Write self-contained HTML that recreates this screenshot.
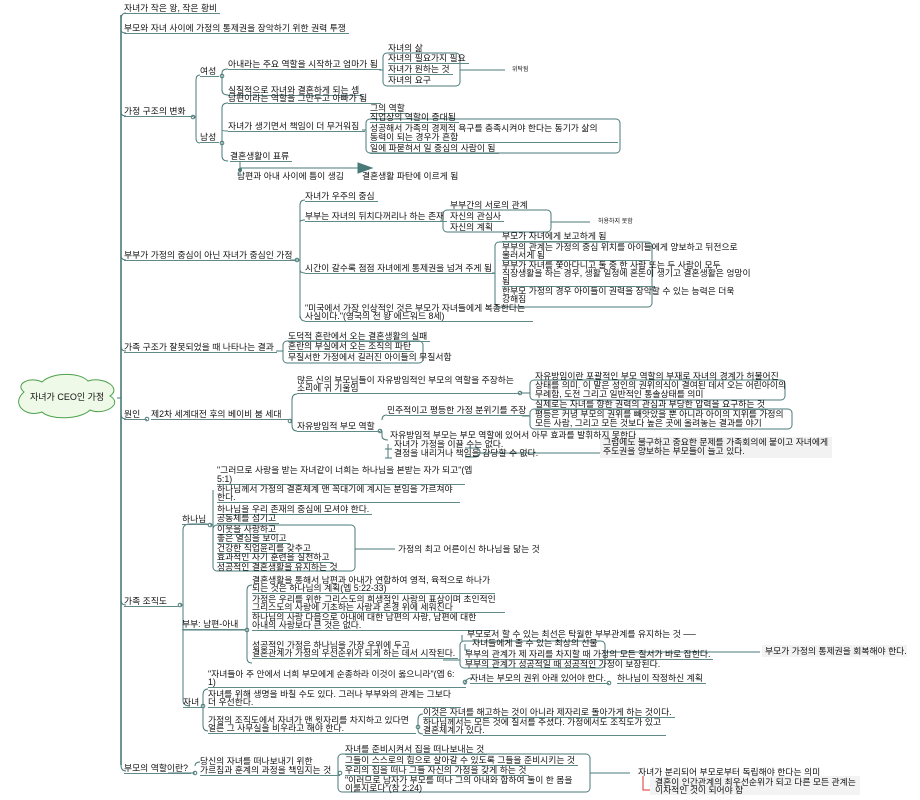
<!DOCTYPE html>
<html><head><meta charset="utf-8"><style>
body{margin:0;width:920px;height:800px;background:#fff;position:relative;overflow:hidden}
.t{position:absolute;font-family:"Liberation Sans","Noto Sans CJK KR",sans-serif;font-size:8.8px;line-height:9px;color:#111;white-space:nowrap;border-bottom:1px solid #5f8a87;padding-right:3px}
.n{border-bottom:none}
.s{font-size:6px}
svg{position:absolute;left:0;top:0}
</style></head><body>
<svg width="920" height="800" fill="none" stroke="#4a7a77" stroke-width="1">
<path d="M24,392 C14,384 30,376 42,382 C52,372 80,372 88,381 C104,376 122,388 110,396 C124,404 104,416 90,410 C80,420 50,420 42,412 C26,418 10,404 24,392Z" fill="#eef9e8" stroke="#4da14a"/>
<path d="M121,15 V765" stroke-width="1.6"/>
<path d="M117,398 H121"/>
<path d="M121,20 Q121,13 126,13 M121,30 Q121,33 126,33 M121,112 Q121,116 126,116 M121,255 Q121,260 126,260 M121,346 Q121,351 126,351 M121,414 Q121,419 126,419 M121,600 Q121,605 126,605 M121,765 Q121,771 126,771"/>
<circle cx="193" cy="117" r="1.8" fill="#fff"/>
<path d="M193,117 H196 M196,80 V138 Q196,143 200,143 M196,80 Q196,75 200,75"/>
<circle cx="222" cy="76" r="1.8" fill="#fff"/><circle cx="222" cy="143" r="1.8" fill="#fff"/>
<path d="M222,76 V90 Q222,95 228,95 M222,76 V73 Q222,69 228,69"/>
<path d="M222,143 V108 Q222,103 228,103 M222,143 V130 Q222,131 228,131 M222,143 V156 Q222,161 228,161"/>
<path d="M379,70 H383"/><rect x="383" y="53" width="77" height="33" rx="4"/>
<path d="M460,70 H505"/>
<path d="M362,130 H366"/><rect x="366" y="119" width="254" height="34" rx="4"/>
<path d="M240,162 V168 H358 M240,168 V175"/><polygon points="358,163 372,168 358,173" fill="#4a7a77"/>
<circle cx="240" cy="170" r="1.5" fill="#4a7a77"/>
<circle cx="297" cy="260" r="1.8" fill="#fff"/>
<path d="M290,260 H300 M300,205 V318 M300,205 Q300,200 305,200 M300,222 Q300,220 305,220 M300,270 Q300,273 305,273 M300,314 Q300,321 305,321"/>
<path d="M440,221 H443"/><rect x="443" y="210" width="108" height="22" rx="4"/><path d="M551,222 H590"/>
<path d="M492,273 H495"/><rect x="495" y="242" width="157" height="65" rx="4"/>
<rect x="283" y="341" width="140" height="22" rx="4"/><path d="M276,351 H283"/>
<circle cx="147" cy="419" r="1.8" fill="#fff"/><circle cx="290" cy="421" r="1.8" fill="#fff"/>
<path d="M290,421 H292 M292,400 Q292,394 297,394 M292,400 V425 Q292,431 297,431"/>
<circle cx="520" cy="393" r="1.8" fill="#fff"/><rect x="530" y="380" width="255" height="20" rx="4"/><path d="M520,393 H530"/>
<circle cx="380" cy="431" r="1.8" fill="#fff"/>
<path d="M380,431 H382 M382,420 Q382,415 387,415 M382,431 V436 Q382,440 388,440"/>
<rect x="530" y="409" width="262" height="20" rx="4"/><path d="M522,416 H530"/>
<path d="M388,444 V458 M385,449 H392 M385,458 H392 M465,448 H475 Q480,448 480,452 Q480,457 475,457 H465 M480,453 H600"/>
<rect x="600" y="437" width="232" height="21" fill="#f2f2f2" stroke="none"/>
<circle cx="180" cy="605" r="1.8" fill="#fff"/>
<path d="M180,605 H183 M183,530 Q183,524 190,524 H210 M183,530 V700 Q183,706 190,706 M183,630 H245"/>
<circle cx="210" cy="525" r="1.8" fill="#fff"/>
<path d="M210,525 H213 M213,490 V560"/>
<rect x="213" y="525" width="142" height="46" rx="4"/><path d="M355,549 H395"/>
<circle cx="247" cy="630" r="1.8" fill="#fff"/>
<path d="M247,630 V590 Q247,585 252,585 M247,630 V658 Q247,663 252,663"/>
<rect x="460" y="641" width="145" height="27" rx="4"/><path d="M443,660 H460 M605,652 H760"/>
<path d="M462,635 V641 M465,644 V650 H470"/>
<circle cx="203" cy="706" r="1.8" fill="#fff"/>
<path d="M203,706 V695 Q203,689 208,689 M203,706 V725 Q203,731 208,731"/>
<circle cx="465" cy="682" r="1.8" fill="#fff"/><path d="M465,682 V685 M465,682 Q467,678 472,678"/>
<circle cx="609" cy="683" r="1.8" fill="#fff"/>
<circle cx="418" cy="727" r="1.8" fill="#fff"/>
<path d="M418,727 V720 Q418,714 423,714 M418,727 V730 Q418,734 423,734"/>
<circle cx="195" cy="773" r="1.8" fill="#fff"/>
<path d="M168,773 H195 M195,766 Q195,762 200,762"/>
<circle cx="340" cy="773" r="1.8" fill="#fff"/>
<rect x="338" y="754" width="252" height="38" rx="4"/><path d="M590,773 H630"/>
<path d="M643,776 V790 H652" stroke="#d33"/>
<rect x="650" y="776" width="210" height="19" fill="#f3f3f3" stroke="none"/>
<rect x="762" y="645" width="145" height="12" fill="#f3f3f3" stroke="none"/>
</svg>
<div class="t n" style="left:30px;top:393px;font-size:9px;z-index:2">자녀가 CEO인 가정</div>

<div class="t" style="left:124px;top:4px">자녀가 작은 왕, 작은 황비</div>
<div class="t" style="left:124px;top:24px">부모와 자녀 사이에 가정의 통제권을 장악하기 위한 권력 투쟁</div>
<div class="t" style="left:124px;top:107px;min-width:66px">가정 구조의 변화</div>
<div class="t" style="left:200px;top:67px">여성</div>
<div class="t" style="left:200px;top:133px">남성</div>
<div class="t" style="left:228px;top:60px;min-width:150px">아내라는 주요 역할을 시작하고 엄마가 됨</div>
<div class="t" style="left:228px;top:86px">실질적으로 자녀와 결혼하게 되는 셈</div>
<div class="t" style="left:228px;top:94px;min-width:150px">남편이라는 역할을 그만두고 아빠가 됨</div>
<div class="t" style="left:228px;top:122px;min-width:134px">자녀가 생기면서 책임이 더 무거워짐</div>
<div class="t" style="left:230px;top:152px">결혼생활이 표류</div>
<div class="t n" style="left:388px;top:44px">자녀의 삶</div>
<div class="t" style="left:388px;top:54px">자녀의 필요가지 필요</div>
<div class="t" style="left:388px;top:65px">자녀가 원하는 것</div>
<div class="t n" style="left:388px;top:76px">자녀의 요구</div>
<div class="t n s" style="left:512px;top:66px">위탁됨</div>
<div class="t" style="left:370px;top:104px">그의 역할</div>
<div class="t" style="left:370px;top:113px">직업상의 역할이 증대됨</div>
<div class="t n" style="left:370px;top:124px">성공해서 가족의 경제적 욕구를 충족시켜야 한다는 동기가 삶의</div>
<div class="t" style="left:370px;top:133px;min-width:245px">동력이 되는 경우가 흔함</div>
<div class="t" style="left:370px;top:144px">일에 파묻혀서 일 중심의 사람이 됨</div>
<div class="t n" style="left:237px;top:172px">남편과 아내 사이에 틈이 생김</div>
<div class="t n" style="left:362px;top:172px">결혼생활 파탄에 이르게 됨</div>

<div class="t" style="left:124px;top:251px;min-width:166px">부부가 가정의 중심이 아닌 자녀가 중심인 가정</div>
<div class="t" style="left:305px;top:192px">자녀가 우주의 중심</div>
<div class="t" style="left:305px;top:212px;min-width:135px">부부는 자녀의 뒤치다꺼리나 하는 존재</div>
<div class="t n" style="left:450px;top:201px">부부간의 서로의 관계</div>
<div class="t" style="left:450px;top:212px">자신의 관심사</div>
<div class="t n" style="left:450px;top:223px">자신의 계획</div>
<div class="t n s" style="left:598px;top:218px">허용하지 못함</div>
<div class="t" style="left:305px;top:264px;min-width:187px">시간이 갈수록 점점 자녀에게 통제권을 넘겨 주게 됨</div>
<div class="t" style="left:502px;top:232px">부모가 자녀에게 보고하게 됨</div>
<div class="t n" style="left:502px;top:243px">부부의 관계는 가정의 중심 위치를 아이들에게 양보하고 뒤전으로</div>
<div class="t" style="left:502px;top:251px;min-width:145px">물러서게 됨</div>
<div class="t n" style="left:502px;top:261px">부부가 자녀를 쫓아다니고 둘 중 한 사람 또는 두 사람이 모두</div>
<div class="t n" style="left:502px;top:269px">직장생활을 하는 경우, 생활 일정에 혼돈이 생기고 결혼생활은 엉망이</div>
<div class="t" style="left:502px;top:277px;min-width:150px">됨</div>
<div class="t n" style="left:502px;top:287px">한부모 가정의 경우 아이들이 권력을 장악할 수 있는 능력은 더욱</div>
<div class="t n" style="left:502px;top:295px">강해짐</div>
<div class="t n" style="left:305px;top:304px">"미국에서 가장 인상적인 것은 부모가 자녀들에게 복종한다는</div>
<div class="t" style="left:305px;top:312px;min-width:225px">사실이다."(영국의 전 왕 에드워드 8세)</div>

<div class="t" style="left:124px;top:343px;min-width:150px">가족 구조가 잘못되었을 때 나타나는 결과</div>
<div class="t" style="left:288px;top:332px">도덕적 혼란에서 오는 결혼생활의 실패</div>
<div class="t" style="left:288px;top:342px">혼란의 부실에서 오는 조직의 파탄</div>
<div class="t n" style="left:288px;top:353px">무질서한 가정에서 길러진 아이들의 무질서함</div>

<div class="t" style="left:124px;top:410px;min-width:20px">원인</div>
<div class="t" style="left:151px;top:410px;min-width:137px">제2차 세계대전 후의 베이비 붐 세대</div>
<div class="t n" style="left:297px;top:376px">많은 신의 부모님들이 자유방임적인 부모의 역할을 주장하는</div>
<div class="t" style="left:297px;top:384px;min-width:220px">소리에 귀 기울임</div>
<div class="t" style="left:297px;top:422px;min-width:80px">자유방임적 부모 역할</div>
<div class="t" style="left:387px;top:406px;min-width:132px">민주적이고 평등한 가정 분위기를 주장</div>
<div class="t n" style="left:535px;top:372px">자유방임이란 포괄적인 부모 역할의 부재로 자녀의 경계가 허물어진</div>
<div class="t n" style="left:535px;top:381px">상태를 의미. 이 말은 성인의 권위의식이 결여된 데서 오는 어린아이의</div>
<div class="t n" style="left:535px;top:390px">무례함, 도전 그리고 일반적인 통솔상태를 의미</div>
<div class="t" style="left:535px;top:400px">실제로는 자녀를 향한 권력의 관심과 부당한 압력을 요구하는 것</div>
<div class="t n" style="left:535px;top:410px">평등은 커녕 부모의 권위를 빼앗았을 뿐 아니라 아이의 지위를 가정의</div>
<div class="t n" style="left:535px;top:419px">모든 사람, 그리고 모든 것보다 높은 곳에 올려놓는 결과를 야기</div>
<div class="t n" style="left:390px;top:431px">자유방임적 부모는 부모 역할에 있어서 아무 효과를 발휘하지 못한다</div>
<div class="t n" style="left:394px;top:440px">자녀가 가정을 이끌 수는 없다.</div>
<div class="t n" style="left:394px;top:449px">결정을 내리거나 책임을 감당할 수 없다.</div>
<div class="t n" style="left:603px;top:438px">그럼에도 불구하고 중요한 문제를 가족회의에 붙이고 자녀에게</div>
<div class="t n" style="left:603px;top:447px">주도권을 양보하는 부모들이 늘고 있다.</div>

<div class="t" style="left:124px;top:597px;min-width:52px">가족 조직도</div>
<div class="t n" style="left:217px;top:466px">"그러므로 사랑을 받는 자녀같이 너희는 하나님을 본받는 자가 되고"(엡</div>
<div class="t" style="left:217px;top:475px;min-width:245px">5:1)</div>
<div class="t" style="left:182px;top:515px;min-width:24px">하나님</div>
<div class="t n" style="left:217px;top:485px">하나님께서 가정의 결혼체계 맨 꼭대기에 계시는 분임을 가르쳐야</div>
<div class="t" style="left:217px;top:493px;min-width:240px">한다.</div>
<div class="t" style="left:217px;top:505px">하나님을 우리 존재의 중심에 모셔야 한다.</div>
<div class="t" style="left:217px;top:514px">공동체를 섬기고</div>
<div class="t" style="left:217px;top:525px">이웃을 사랑하고</div>
<div class="t" style="left:217px;top:534px">좋은 열심을 보이고</div>
<div class="t" style="left:217px;top:544px">건강한 직업윤리를 갖추고</div>
<div class="t" style="left:217px;top:553px">효과적인 자기 훈련을 실천하고</div>
<div class="t n" style="left:217px;top:563px">성공적인 결혼생활을 유지하는 것</div>
<div class="t n" style="left:398px;top:545px">가정의 최고 어른이신 하나님을 닮는 것</div>
<div class="t" style="left:182px;top:620px;min-width:60px">부부: 남편-아내</div>
<div class="t n" style="left:252px;top:576px">결혼생활을 통해서 남편과 아내가 연합하여 영적, 육적으로 하나가</div>
<div class="t" style="left:252px;top:584px;min-width:240px">되는 것은 하나님의 계획(엡 5:22-33)</div>
<div class="t n" style="left:252px;top:595px">가정은 우리를 위한 그리스도의 희생적인 사랑의 표상이며 초인적인</div>
<div class="t" style="left:252px;top:603px;min-width:250px">그리스도의 사랑에 기초하는 사랑과 존경 위에 세워진다</div>
<div class="t n" style="left:252px;top:613px">하나님의 사랑 다음으로 아내에 대한 남편의 사랑, 남편에 대한</div>
<div class="t" style="left:252px;top:621px;min-width:240px">아내의 사랑보다 큰 것은 없다.</div>
<div class="t n" style="left:252px;top:641px">성공적인 가정은 하나님을 가장 우위에 두고</div>
<div class="t" style="left:252px;top:649px">결혼관계가 가정의 우선순위가 되게 하는 데서 시작된다.</div>
<div class="t n" style="left:467px;top:630px">부모로서 할 수 있는 최선은 탁월한 부부관계를 유지하는 것 ──</div>
<div class="t n" style="left:472px;top:639px">자녀들에게 줄 수 있는 최상의 선물</div>
<div class="t" style="left:465px;top:650px">부부의 관계가 제 자리를 차지할 때 가정의 모든 질서가 바로 잡힌다.</div>
<div class="t n" style="left:465px;top:660px">부부의 관계가 성공적일 때 성공적인 가정이 보장된다.</div>
<div class="t n" style="left:765px;top:647px">부모가 가정의 통제권을 회복해야 한다.</div>
<div class="t" style="left:183px;top:698px;min-width:18px">자녀</div>
<div class="t n" style="left:208px;top:670px">"자녀들아 주 안에서 너희 부모에게 순종하라 이것이 옳으니라"(엡 6:</div>
<div class="t" style="left:208px;top:678px;min-width:255px">1)</div>
<div class="t n" style="left:208px;top:690px">자녀를 위해 생명을 바칠 수도 있다. 그러나 부부와의 관계는 그보다</div>
<div class="t" style="left:208px;top:698px;min-width:250px">더 우선한다.</div>
<div class="t" style="left:470px;top:674px">자녀는 부모의 권위 아래 있어야 한다.</div>
<div class="t" style="left:617px;top:674px">하나님이 작정하신 계획</div>
<div class="t n" style="left:208px;top:716px">가정의 조직도에서 자녀가 맨 윗자리를 차지하고 있다면</div>
<div class="t" style="left:208px;top:724px;min-width:205px">얼른 그 사무실을 비우라고 해야 한다.</div>
<div class="t" style="left:423px;top:708px">이것은 자녀를 해고하는 것이 아니라 제자리로 돌아가게 하는 것이다.</div>
<div class="t n" style="left:423px;top:718px">하나님께서는 모든 것에 질서를 주셨다. 가정에서도 조직도가 있고</div>
<div class="t" style="left:423px;top:726px;min-width:240px">결혼체계가 있다.</div>

<div class="t" style="left:124px;top:764px;min-width:44px">부모의 역할이란?</div>
<div class="t n" style="left:200px;top:757px">당신의 자녀를 떠나보내기 위한</div>
<div class="t" style="left:200px;top:766px;min-width:137px">가르침과 훈계의 과정을 책임지는 것</div>
<div class="t" style="left:345px;top:745px">자녀를 준비시켜서 집을 떠나보내는 것</div>
<div class="t" style="left:345px;top:756px">그들이 스스로의 힘으로 살아갈 수 있도록 그들을 준비시키는 것</div>
<div class="t" style="left:345px;top:766px">우리의 집을 떠나 그들 자신의 가정을 갖게 하는 것</div>
<div class="t n" style="left:345px;top:776px">"이러므로 남자가 부모를 떠나 그의 아내와 합하여 둘이 한 몸을</div>
<div class="t n" style="left:345px;top:784px">이룰지로다"(창 2:24)</div>
<div class="t n" style="left:638px;top:768px">자녀가 분리되어 부모로부터 독립해야 한다는 의미</div>
<div class="t n" style="left:655px;top:778px">결혼이 인간관계의 최우선순위가 되고 다른 모든 관계는</div>
<div class="t n" style="left:655px;top:786px">이차적인 것이 되어야 함</div>
</body></html>
